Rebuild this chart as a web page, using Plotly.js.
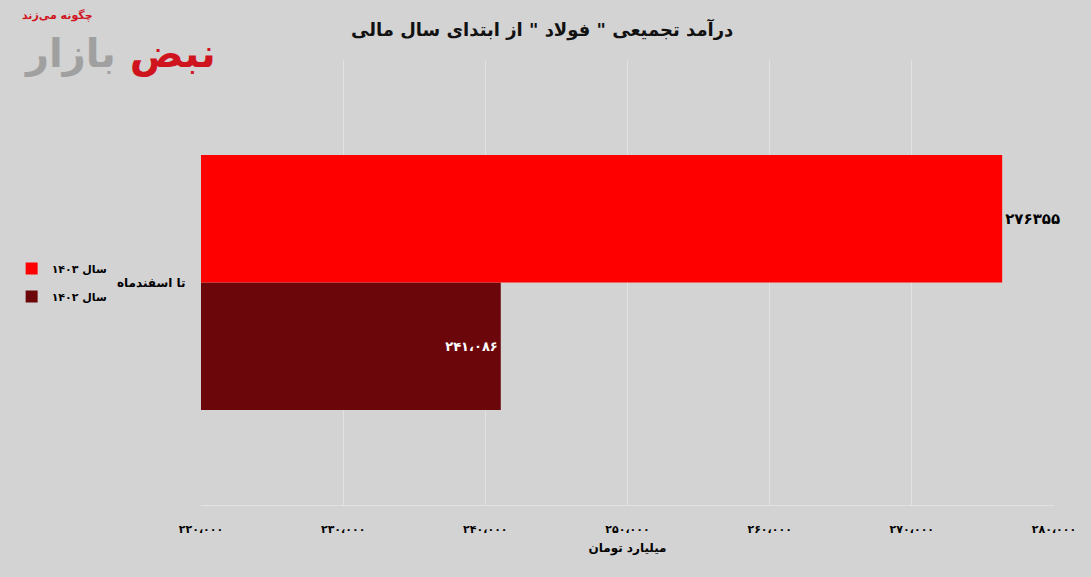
<!DOCTYPE html>
<html><head><meta charset="utf-8">
<script src="https://cdn.plot.ly/plotly-3.0.1.min.js"></script>
<style>html,body{margin:0;padding:0;background:#d3d3d3;}#chart{width:1091px;height:577px;}</style>
</head><body><div id="chart"></div>
<script>
const categories = ["تا اسفندماه"];
const seriesNames = ["سال ۱۴۰۲", "سال ۱۴۰۳"];
const values1402 = [241086];
const values1403 = [276355];
const labels1402 = ["۲۴۱،۰۸۶"];
const labels1403 = ["۲۷۶۳۵۵"];
const tickValues = [220000, 230000, 240000, 250000, 260000, 270000, 280000];
const tickLabels = ["۲۲۰،۰۰۰", "۲۳۰،۰۰۰", "۲۴۰،۰۰۰", "۲۵۰،۰۰۰", "۲۶۰،۰۰۰", "۲۷۰،۰۰۰", "۲۸۰،۰۰۰"];

const FONT = "DejaVu Sans, Noto Sans, sans-serif";
const traces = [
  {type:"bar", orientation:"h", name:seriesNames[0], legendgroup:"a", legendrank:2, y:categories, x:values1402,
   marker:{color:"#6b070b"}, text:labels1402, textposition:"inside", insidetextanchor:"end",
   textfont:{color:"#ffffff", size:13, family:FONT, weight:"bold"}, cliponaxis:false},
  {type:"bar", orientation:"h", name:seriesNames[1], legendgroup:"b", legendrank:1, y:categories, x:values1403,
   marker:{color:"#ff0000"}, text:labels1403, textposition:"outside",
   textfont:{color:"#000000", size:15, family:FONT, weight:"bold"}, cliponaxis:false}
];
const layout = {
  width:1091, height:577,
  paper_bgcolor:"#d3d3d3", plot_bgcolor:"#d3d3d3",
  margin:{l:201, r:37, t:60, b:72, autoexpand:false},
  font:{family:FONT, color:"#000"},
  title:{text:"<b>درآمد تجمیعی \" فولاد \" از ابتدای سال مالی</b>", x:0.497, xref:"container", xanchor:"center", y:0.96, yref:"container", font:{size:18, family:FONT, color:"#111"}},
  barmode:"group", bargap:0.427, bargroupgap:0,
  showlegend:true,
  legend:{x:-0.222, xanchor:"left", y:0.5, yanchor:"middle", traceorder:"grouped", tracegroupgap:9, bgcolor:"rgba(0,0,0,0)", font:{size:11, family:FONT, weight:"bold"}, itemwidth:30},
  xaxis:{range:[220000, 280000], tickvals:tickValues, ticktext:tickLabels, showgrid:true, gridcolor:"#e2e2e2", gridwidth:1,
    zeroline:false, showline:true, linecolor:"#e2e2e2", ticks:"outside", ticklen:14, tickcolor:"rgba(0,0,0,0)",
    tickfont:{size:11, family:FONT, weight:"bold"},
    title:{text:"<b>میلیارد تومان</b>", font:{size:12, family:FONT}, standoff:8}},
  yaxis:{type:"category", range:[-0.5, 0.5], showgrid:false, zeroline:false, showline:false, ticks:"outside", ticklen:12, tickcolor:"rgba(0,0,0,0)",
    tickfont:{size:12, family:FONT, weight:"bold"}},
  annotations:[
    {xref:"paper", yref:"paper", x:-0.168, y:1.10, xanchor:"center", yanchor:"middle", showarrow:false,
     text:"<b>چگونه می‌زند</b>", font:{size:11, color:"#d0141e", family:FONT}},
    {xref:"paper", yref:"paper", x:-0.095, y:1.015, xanchor:"center", yanchor:"middle", showarrow:false,
     text:"<b><span style='color:#d0141e'>نبض</span> <span style='color:#a0a0a0'>بازار</span></b>", font:{size:40, family:FONT}}
  ]
};
Plotly.newPlot("chart", traces, layout, {displayModeBar:false, staticPlot:true});
</script></body></html>
